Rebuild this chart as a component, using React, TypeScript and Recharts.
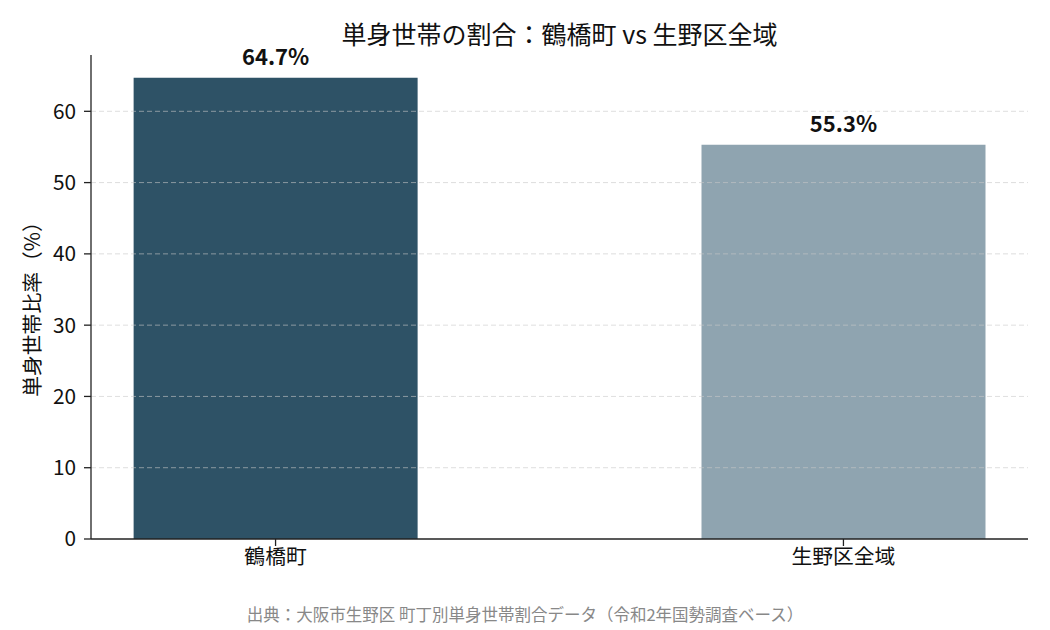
import React from 'react';
import { BarChart, Bar, XAxis, YAxis, Cell, LabelList, ReferenceLine } from 'recharts';

const areas = ['鶴橋町', '生野区全域'];
const singleRatio = [64.7, 55.3];
const barColors = ['#2e5266', '#8fa4b0'];
const yTicks = [0, 10, 20, 30, 40, 50, 60];

const data = areas.map((name, i) => ({ x: i, name, value: singleRatio[i] }));

const FONT = '"Noto Sans CJK JP", "Noto Sans", sans-serif';

export default function App() {
  return (
    <div style={{ position: 'absolute', left: 0, top: 0, width: 1050, height: 630, background: '#fff', fontFamily: FONT }}>
      <div style={{ position: 'absolute', left: 91, width: 937, top: 18, textAlign: 'center', fontSize: 25, color: '#111', lineHeight: '30px' }}>
        単身世帯の割合：鶴橋町 vs 生野区全域
      </div>
      <div
        style={{
          position: 'absolute', left: 31, top: 304, transform: 'translate(-50%, -50%) rotate(-90deg)',
          whiteSpace: 'nowrap', fontSize: 20.8, color: '#111', lineHeight: '24px',
        }}
      >
        単身世帯比率（%）
      </div>
      <div style={{ position: 'absolute', left: 0, width: 1050, top: 604, textAlign: 'center', fontSize: 16.5, color: '#888', lineHeight: '20px' }}>
        出典：大阪市生野区 町丁別単身世帯割合データ（令和2年国勢調査ベース）
      </div>
      <BarChart width={1050} height={630} data={data} margin={{ top: 55, right: 22, bottom: 51, left: 31 }} style={{ position: 'absolute', left: 0, top: 0 }}>
        <XAxis
          dataKey="x"
          type="number"
          domain={[-0.325, 1.325]}
          ticks={[0, 1]}
          tickFormatter={(v: number) => areas[v] ?? ''}
          allowDataOverflow
          axisLine={{ stroke: '#222', strokeWidth: 1.3 }}
          tickLine={{ stroke: '#222', strokeWidth: 1.3 }}
          tickSize={7}
          fontSize={20.8}
          tick={{ fill: '#111', fontSize: 20.8, fontFamily: FONT }}
          tickMargin={3}
          height={40}
        />
        <YAxis
          type="number"
          domain={[0, 67.9]}
          ticks={yTicks}
          allowDataOverflow
          axisLine={{ stroke: '#222', strokeWidth: 1.3 }}
          tickLine={{ stroke: '#222', strokeWidth: 1.3 }}
          tickSize={7}
          fontSize={20.8}
          tick={{ fill: '#111', fontSize: 20.8, fontFamily: FONT }}
          tickMargin={8}
          width={60}
        />
        <Bar dataKey="value" barSize={284} isAnimationActive={false}>
          {data.map((d, i) => (
            <Cell key={d.name} fill={barColors[i]} />
          ))}
          <LabelList
            dataKey="value"
            position="top"
            offset={13}
            formatter={(v: number) => `${v}%`}
            style={{ fill: '#111', fontSize: 22, fontWeight: 700, fontFamily: FONT }}
          />
        </Bar>
        {yTicks.slice(1).map((t) => (
          <ReferenceLine key={t} y={t} stroke="#c8c8c8" strokeOpacity={0.6} strokeDasharray="5 3" strokeWidth={1} />
        ))}
      </BarChart>
    </div>
  );
}
